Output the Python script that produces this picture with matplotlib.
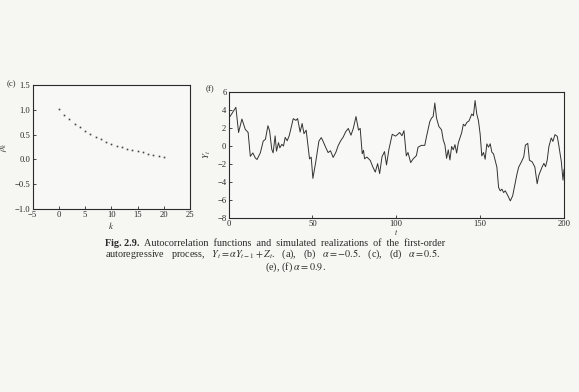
import matplotlib
matplotlib.use("Agg")
import matplotlib.pyplot as plt

plt.rcParams['font.family'] = ['Liberation Serif', 'DejaVu Serif']
plt.rcParams['mathtext.fontset'] = 'stix'

# Panel (c): autocorrelation function of the AR(1) process
acf_lags = list(range(21))
acf_values = [1.01, 0.90, 0.81, 0.72, 0.65, 0.58, 0.52, 0.46, 0.41, 0.36, 0.32,
              0.28, 0.245, 0.21, 0.18, 0.16, 0.14, 0.11, 0.09, 0.07, 0.05]
acf_xticks = [-5, 0, 5, 10, 15, 20, 25]
acf_yticks = [-1.0, -0.5, 0.0, 0.5, 1.0, 1.5]

# Panel (f): simulated realization, alpha = 0.9
series_t = [1, 4.4, 6, 8, 10, 11.7, 13, 14.5, 16, 17, 19, 20.7, 22, 23.5, 24.5, 25.8,
            26.6, 27.8, 28.6, 29.8, 30.6, 31.8, 32.8, 33.8, 35, 36.2, 38.6, 40.2,
            41.2, 42.7, 43.9, 45, 46.3, 48.3, 49.3, 50.3, 51.9, 53.9, 55.3, 56.3,
            58, 59.4, 60.8, 62.4, 64, 65.4, 67, 68.4, 69.8, 71.4, 73, 74.4, 76,
            77.5, 78.5, 79.7, 80.5, 81.1, 82.5, 84.5, 86.1, 87.5, 88.9, 90.1,
            91.5, 93, 94.2, 95.6, 97.6, 99.6, 101, 102, 103.4, 104.6, 106, 107,
            108.6, 110, 112, 113, 115, 117, 118, 120, 121, 122, 123, 124, 125.4,
            127, 128, 129, 130, 131, 132, 133, 134, 135, 136, 137, 139, 140, 141,
            142, 143.4, 145, 146, 147, 148, 149, 150, 151, 152, 153, 154, 155,
            156, 157, 158, 159, 160, 161, 162, 163, 164, 165, 166.6, 168, 169.4,
            170.6, 172, 173, 174.6, 176, 177, 178.4, 179.4, 181, 182.6, 184, 185,
            187, 188, 189, 190, 191, 192.4, 193.4, 194.6, 196, 197, 198.4, 199.4,
            200]
series_y = [3.3, 4.3, 1.5, 3.0, 1.85, 1.5, -1.15, -0.77, -1.33, -1.5, -0.75, 0.55,
            0.74, 2.25, 1.69, -0.38, -0.76, 1.12, -0.57, 0.37, -0.2, 0.18, 0.0,
            0.96, 0.58, 1.15, 3.04, 2.85, 3.05, 1.55, 2.5, 1.37, 1.76, -1.43,
            -1.24, -3.6, -1.9, 0.55, 0.93, 0.56, -0.18, -0.73, -0.53, -1.27, -0.7,
            0.05, 0.62, 1.0, 1.57, 1.95, 1.2, 1.95, 3.27, 1.77, 1.96, -0.86, -0.48,
            -1.42, -1.23, -1.6, -2.35, -2.9, -1.96, -3.07, -1.2, -0.62, -2.1, -0.4,
            1.3, 1.1, 1.32, 1.5, 1.14, 1.7, -1.1, -0.72, -1.84, -1.45, -1.07, -0.13,
            0.07, 0.07, 1.02, 2.71, 3.09, 3.28, 4.78, 3.1, 2.17, 1.8, 0.68, 0.13,
            -1.37, -0.43, -1.55, -0.05, -0.42, 0.15, -0.78, 0.35, 1.48, 2.42, 2.23,
            2.6, 2.8, 3.55, 3.36, 5.05, 3.56, 2.81, 1.34, -1.1, -0.72, -1.47, 0.24,
            -0.13, 0.25, -0.69, -0.88, -1.63, -2.36, -4.6, -4.98, -4.8, -5.17,
            -4.98, -5.54, -6.1, -5.53, -4.4, -3.09, -2.34, -1.77, -1.21, 0.1, 0.29,
            -1.58, -1.76, -2.32, -4.19, -3.25, -2.31, -1.93, -2.3, -1.55, -0.05,
            0.89, 0.51, 1.26, 1.07, -0.05, -1.73, -3.79, -2.6]
series_xticks = [0, 50, 100, 150, 200]
series_yticks = [-8, -6, -4, -2, 0, 2, 4, 6]

caption_bold = "Fig. 2.9."
caption_line1 = ("Autocorrelation  functions  and  simulated  "
                 "realizations  of  the  first-order")
caption_line2 = (r"autoregressive   process,   $Y_t = \alpha Y_{t-1} + Z_t$.   (a),   (b)   "
                 r"$\alpha = -0.5$.   (c),   (d)   $\alpha = 0.5$.")
caption_line3 = r"(e), (f) $\alpha = 0.9$."

W, H = 579, 392
fig = plt.figure(figsize=(W / 100, H / 100), dpi=100, facecolor='#f6f6f3')
ink = '#2a2a2a'
tick_fs = 6.2


def px_axes(x0, y0, x1, y1):
    return fig.add_axes([x0 / W, 1 - y1 / H, (x1 - x0) / W, (y1 - y0) / H])


def style(ax):
    ax.set_facecolor('#f8f8f6')
    for s in ax.spines.values():
        s.set_color(ink)
        s.set_linewidth(0.8)
    ax.tick_params(direction='in', length=2.5, width=0.6, colors=ink,
                   labelsize=tick_fs, pad=1.5)


def minus(v, fmt):
    return (fmt % v).replace('-', '\u2212')


# (c) autocorrelation
ax1 = px_axes(32.5, 85, 190, 209)
style(ax1)
ax1.plot(acf_lags, acf_values, linestyle='none', marker='s', markersize=1.2,
         color='#444444', markeredgewidth=0)
ax1.set_xlim(-5, 25)
ax1.set_ylim(-1.0, 1.5)
ax1.set_xticks(acf_xticks)
ax1.set_xticklabels([minus(v, '%d') for v in acf_xticks])
ax1.set_yticks(acf_yticks)
ax1.set_yticklabels([minus(v, '%.1f') for v in acf_yticks])
ax1.set_xlabel(r'$k$', fontsize=6.5, labelpad=1, color=ink)
ax1.set_ylabel(r'$\rho_k$', fontsize=6.5, labelpad=4, color=ink)

# (f) realization
ax2 = px_axes(228.5, 92, 564, 218)
style(ax2)
ax2.plot(series_t, series_y, color='#333333', linewidth=0.7)
ax2.set_xlim(0, 200)
ax2.set_ylim(-8, 6)
ax2.set_xticks(series_xticks)
ax2.set_yticks(series_yticks)
ax2.set_yticklabels([minus(v, '%d') for v in series_yticks])
ax2.set_xlabel(r'$t$', fontsize=5.5, labelpad=-1, color=ink)
ax2.set_ylabel(r'$Y_t$', fontsize=6.5, labelpad=3, color=ink)

fig.text(16 / W, 1 - 84 / H, '(c)', fontsize=6.2, color=ink, ha='right', va='center')
fig.text(214 / W, 1 - 89 / H, '(f)', fontsize=6.2, color=ink, ha='right', va='center')

# caption
cap_fs = 7.3
fig.text(105 / W, 1 - 246 / H, caption_bold, fontsize=cap_fs, fontweight='bold',
         color=ink, ha='left', va='baseline')
fig.text(144 / W, 1 - 246 / H, caption_line1, fontsize=cap_fs, color=ink,
         ha='left', va='baseline')
fig.text(105 / W, 1 - 256.5 / H, caption_line2, fontsize=cap_fs, color=ink,
         ha='left', va='baseline')
fig.text(265 / W, 1 - 270 / H, caption_line3, fontsize=cap_fs, color=ink,
         ha='left', va='baseline')

fig.savefig('out.png', dpi=100, facecolor=fig.get_facecolor())
